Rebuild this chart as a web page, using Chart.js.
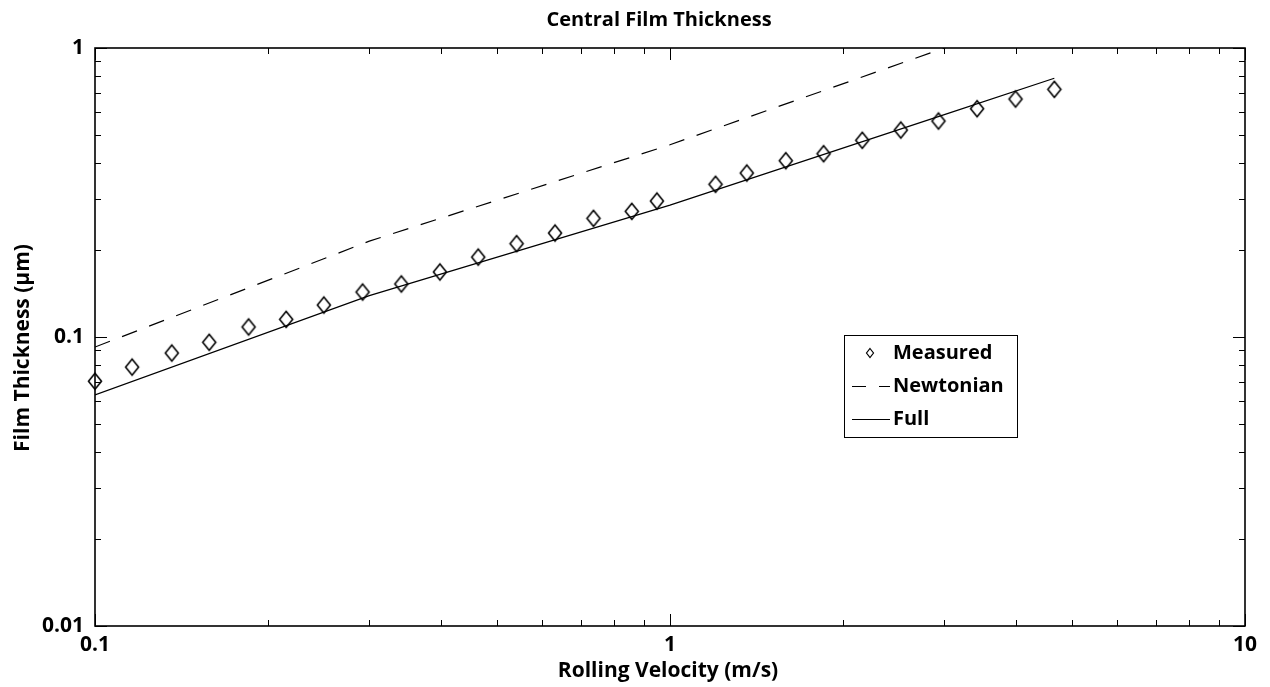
<!DOCTYPE html>
<html>
<head>
<meta charset="utf-8">
<title>Central Film Thickness</title>
<script src="https://cdn.jsdelivr.net/npm/chart.js@4.4.1/dist/chart.umd.min.js"></script>
<style>
  html, body { margin: 0; padding: 0; background: #fff; }
  canvas { display: block; }
</style>
</head>
<body>
<canvas id="film" width="1270" height="687"></canvas>
<script>
// values (log-log)
const velocity = [0.100, 0.116, 0.136, 0.158, 0.185, 0.215, 0.250, 0.292, 0.341, 0.398, 0.464, 0.541, 0.631,
                  0.736, 0.858, 0.949, 1.20, 1.36, 1.59, 1.85, 2.16, 2.52, 2.93, 3.42, 3.99, 4.66];
const measured = [0.0703, 0.0787, 0.0880, 0.0959, 0.1083, 0.1151, 0.129, 0.1431, 0.1526, 0.1679, 0.189, 0.2104, 0.229,
                  0.2574, 0.2722, 0.2954, 0.3376, 0.3693, 0.4074, 0.4308, 0.4793, 0.5203, 0.5588, 0.6166, 0.666, 0.7194];

const lineVelocity = [0.1, 0.3, 1, 3, 4.66];
const newtonian = [0.0923, 0.2146, 0.4627, 1.0, 1.36];
const full = [0.063, 0.139, 0.286, 0.588, 0.786];

const xTickLabels = ['0.1', '1', '10'];
const yTickLabels = ['0.01', '0.1', '1'];

const FONT = "'Open Sans', 'DejaVu Sans', sans-serif";

// minor + major log ticks for a decade range
function logTicks(lo, hi) {
  const out = [];
  for (let d = lo; d < hi * 0.999; d *= 10) {
    for (let k = 1; k < 10; k++) out.push(+(d * k).toPrecision(3));
  }
  out.push(hi);
  return out;
}

function isDecade(v) {
  const l = Math.log10(v);
  return Math.abs(l - Math.round(l)) < 1e-6;
}

function tickLabel(labels) {
  return function (value) {
    const hit = labels.find(s => Math.abs(parseFloat(s) - value) < 1e-9);
    return hit || '';
  };
}

// hollow diamond, a little taller than wide
function diamond(hw, hh, lw) {
  const c = document.createElement('canvas');
  c.width = Math.ceil(hw * 2 + lw * 2 + 1);
  c.height = Math.ceil(hh * 2 + lw * 2 + 1);
  const g = c.getContext('2d');
  const cx = c.width / 2, cy = c.height / 2;
  g.strokeStyle = '#000';
  g.lineWidth = lw;
  g.beginPath();
  g.moveTo(cx, cy - hh);
  g.lineTo(cx + hw, cy);
  g.lineTo(cx, cy + hh);
  g.lineTo(cx - hw, cy);
  g.closePath();
  g.stroke();
  return c;
}

const NEWT_DASH = [16, 13];

// box, inside ticks on all four sides, titles and the legend
const framePlugin = {
  id: 'frame',
  afterDraw(chart) {
    const { ctx, chartArea: a } = chart;
    const xs = chart.scales.x, ys = chart.scales.y;
    ctx.save();
    ctx.strokeStyle = '#000';
    ctx.lineWidth = 1;
    ctx.beginPath();
    xs.ticks.forEach(t => {
      const px = Math.round(xs.getPixelForValue(t.value)) + 0.5;
      const len = isDecade(t.value) ? 12 : 6;
      ctx.moveTo(px, a.bottom); ctx.lineTo(px, a.bottom - len);
      ctx.moveTo(px, a.top); ctx.lineTo(px, a.top + len);
    });
    ys.ticks.forEach(t => {
      const py = Math.round(ys.getPixelForValue(t.value)) + 0.5;
      const len = isDecade(t.value) ? 12 : 6;
      ctx.moveTo(a.left, py); ctx.lineTo(a.left + len, py);
      ctx.moveTo(a.right, py); ctx.lineTo(a.right - len, py);
    });
    ctx.stroke();

    ctx.lineWidth = 1.6;
    ctx.strokeRect(a.left, a.top, a.right - a.left, a.bottom - a.top);

    // titles
    ctx.fillStyle = '#000';
    ctx.textAlign = 'center';
    ctx.textBaseline = 'middle';
    ctx.font = 'bold 20px ' + FONT;
    ctx.fillText('Central Film Thickness', 659, 20);
    ctx.font = 'bold 21px ' + FONT;
    ctx.fillText('Rolling Velocity (m/s)', 668, 671);
    ctx.save();
    ctx.translate(23, 348);
    ctx.rotate(-Math.PI / 2);
    ctx.fillText('Film Thickness (\u00b5m)', 0, 0);
    ctx.restore();

    // legend box
    const lx = 844, ly = 335, lw = 173, lh = 102;
    ctx.fillStyle = '#fff';
    ctx.fillRect(lx, ly, lw, lh);
    ctx.lineWidth = 1;
    ctx.strokeRect(lx + 0.5, ly + 0.5, lw, lh);

    const rows = [353, 386, 419];
    const ds = chart.data.datasets;
    ctx.font = 'bold 20px ' + FONT;
    ctx.textAlign = 'left';
    ctx.fillStyle = '#000';
    ds.forEach((d, i) => {
      const y = rows[i];
      ctx.strokeStyle = '#000';
      if (i === 0) {
        ctx.lineWidth = 1.2;
        ctx.beginPath();
        ctx.moveTo(870, y - 4.5); ctx.lineTo(873.5, y); ctx.lineTo(870, y + 4.5); ctx.lineTo(866.5, y);
        ctx.closePath();
        ctx.stroke();
      } else {
        ctx.lineWidth = 1;
        ctx.beginPath();
        if (d.borderDash && d.borderDash.length) {
          ctx.moveTo(852, y + 0.5); ctx.lineTo(866, y + 0.5);
          ctx.moveTo(879, y + 0.5); ctx.lineTo(890, y + 0.5);
        } else {
          ctx.moveTo(852, y + 0.5); ctx.lineTo(890, y + 0.5);
        }
        ctx.stroke();
      }
      ctx.fillText(d.label, 893, y);
    });
    ctx.restore();
  }
};

new Chart(document.getElementById('film'), {
  type: 'scatter',
  data: {
    datasets: [
      {
        label: 'Measured',
        data: velocity.map((v, i) => ({ x: v, y: measured[i] })),
        showLine: false,
        pointStyle: diamond(6.5, 8, 1.6),
        pointRadius: 8,
        clip: false
      },
      {
        label: 'Newtonian',
        data: lineVelocity.map((v, i) => ({ x: v, y: newtonian[i] })),
        showLine: true,
        borderColor: '#000',
        borderWidth: 1.2,
        borderDash: NEWT_DASH,
        pointRadius: 0,
        tension: 0
      },
      {
        label: 'Full',
        data: lineVelocity.map((v, i) => ({ x: v, y: full[i] })),
        showLine: true,
        borderColor: '#000',
        borderWidth: 1.2,
        pointRadius: 0,
        tension: 0
      }
    ]
  },
  options: {
    responsive: false,
    devicePixelRatio: 1,
    animation: false,
    events: [],
    layout: { padding: { top: 48, right: 25, left: 0, bottom: 0 } },
    plugins: {
      legend: { display: false },
      title: { display: false },
      tooltip: { enabled: false }
    },
    scales: {
      x: {
        type: 'logarithmic',
        min: 0.1,
        max: 10,
        grid: { display: false, drawTicks: false },
        border: { display: false },
        afterBuildTicks: s => { s.ticks = logTicks(0.1, 10).map(v => ({ value: v })); },
        afterFit: s => { s.height = 61; },
        ticks: {
          autoSkip: false,
          maxRotation: 0,
          padding: 6,
          color: '#000',
          font: { family: FONT, size: 21, weight: 'bold' },
          callback: tickLabel(xTickLabels)
        }
      },
      y: {
        type: 'logarithmic',
        min: 0.01,
        max: 1,
        grid: { display: false, drawTicks: false },
        border: { display: false },
        afterBuildTicks: s => { s.ticks = logTicks(0.01, 1).map(v => ({ value: v })); },
        afterFit: s => { s.width = 95; },
        ticks: {
          autoSkip: false,
          padding: 11,
          color: '#000',
          font: { family: FONT, size: 21, weight: 'bold' },
          callback: tickLabel(yTickLabels)
        }
      }
    }
  },
  plugins: [framePlugin]
});
</script>
</body>
</html>
